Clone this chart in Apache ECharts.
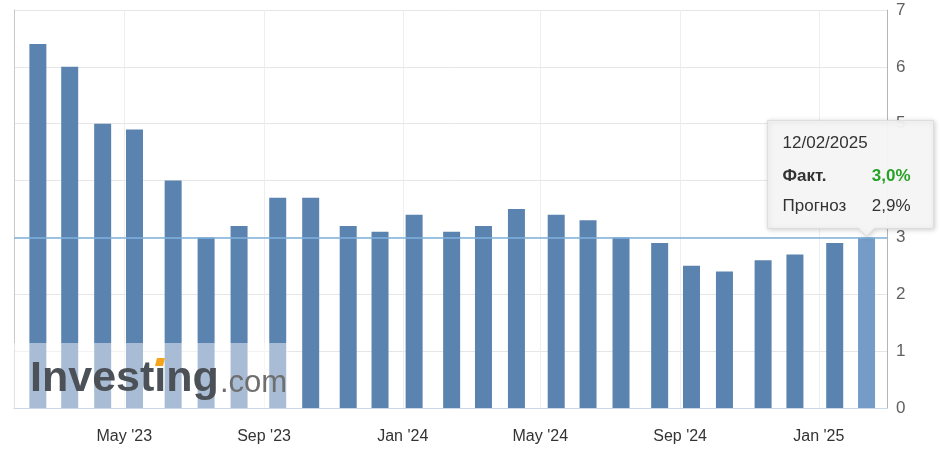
<!DOCTYPE html>
<html>
<head>
<meta charset="utf-8">
<script src="https://cdn.jsdelivr.net/npm/echarts@6/dist/echarts.min.js"></script>
<style>
html,body{margin:0;padding:0;background:#ffffff;}
#chart{width:940px;height:457px;}
</style>
</head>
<body>
<div id="chart"></div>
<script>
// Release dates of the monthly figures
const releaseDates = [
  '2023-02-14','2023-03-14','2023-04-12','2023-05-10','2023-06-13','2023-07-12',
  '2023-08-10','2023-09-13','2023-10-12','2023-11-14','2023-12-12','2024-01-11',
  '2024-02-13','2024-03-12','2024-04-10','2024-05-15','2024-06-12','2024-07-11',
  '2024-08-14','2024-09-11','2024-10-10','2024-11-13','2024-12-11','2025-01-15',
  '2025-02-12'
];
// Actual values, %
const actualValues = [
  6.4, 6.0, 5.0, 4.9, 4.0, 3.0,
  3.2, 3.7, 3.7, 3.2, 3.1, 3.4,
  3.1, 3.2, 3.5, 3.4, 3.3, 3.0,
  2.9, 2.5, 2.4, 2.6, 2.7, 2.9,
  3.0
];
const lastForecast = 2.9;
// X tick label dates
const xTickDates = ['2023-05-01','2023-09-01','2024-01-01','2024-05-01','2024-09-01','2025-01-01'];
const monthNames = ['Jan','Feb','Mar','Apr','May','Jun','Jul','Aug','Sep','Oct','Nov','Dec'];
const xRange = ['2023-01-24','2025-03-02'];
const yTicks = [0, 1, 2, 3, 4, 5, 6, 7];

const FONT = 'Arial, "Liberation Sans", sans-serif';
const ts = d => Date.parse(d);
const lastIdx = actualValues.length - 1;

const barData = releaseDates.map((d, i) => {
  const item = { value: [ts(d), actualValues[i]] };
  if (i === lastIdx) item.itemStyle = { color: '#759cc7' };
  return item;
});

const chart = echarts.init(document.getElementById('chart'), null, { renderer: 'canvas' });

const option = {
  animation: false,
  backgroundColor: '#ffffff',
  grid: { left: 14, right: 53, top: 10, bottom: 49, containLabel: false },
  xAxis: {
    type: 'value',
    min: ts(xRange[0]),
    max: ts(xRange[1]),
    axisLine: { show: true, onZero: false, lineStyle: { color: '#ccd6eb', width: 1 } },
    axisTick: { show: false, customValues: xTickDates.map(ts) },
    axisLabel: {
      customValues: xTickDates.map(ts),
      color: '#333333',
      fontSize: 16,
      fontFamily: FONT,
      margin: 21,
      formatter: v => {
        const dt = new Date(v);
        return monthNames[dt.getUTCMonth()] + " '" + String(dt.getUTCFullYear()).slice(2);
      }
    },
    splitLine: { show: true, lineStyle: { color: '#eeeeee', width: 1 } }
  },
  yAxis: [
    {
      type: 'value',
      position: 'right',
      min: yTicks[0],
      max: yTicks[yTicks.length - 1],
      interval: 1,
      axisLine: { show: true, lineStyle: { color: '#b5b5b5', width: 1 } },
      axisTick: { show: false },
      axisLabel: { color: '#606060', fontSize: 17, fontFamily: FONT, margin: 9, padding: [5, 0, 0, 0] },
      splitLine: { show: true, lineStyle: { color: '#e6e6e6', width: 1 } }
    },
    {
      type: 'value',
      position: 'left',
      min: yTicks[0],
      max: yTicks[yTicks.length - 1],
      interval: 1,
      axisLine: { show: true, lineStyle: { color: '#c8c8c8', width: 1 } },
      axisTick: { show: false },
      axisLabel: { show: false },
      splitLine: { show: false }
    }
  ],
  series: [
    {
      type: 'bar',
      yAxisIndex: 0,
      barWidth: 17,
      itemStyle: { color: '#5b83b0' },
      data: barData,
      markLine: {
        silent: true,
        symbol: ['none', 'none'],
        label: { show: false },
        lineStyle: { color: '#7fb2dc', width: 1.5, type: 'solid' },
        data: [{ yAxis: actualValues[lastIdx] }]
      }
    }
  ]
};

chart.setOption(option);

// Tooltip & watermark decorations
const [px, py] = chart.convertToPixel({ xAxisIndex: 0, yAxisIndex: 0 }, [ts(releaseDates[lastIdx]), actualValues[lastIdx]]);
const [gx0, gy0] = chart.convertToPixel({ xAxisIndex: 0, yAxisIndex: 0 }, [ts(xRange[0]), 0]);

const L = px - 99, R = px + 67, T = py - 117, B = py - 9;
const fmtNum = v => v.toFixed(1).replace('.', ',') + '%';
const rd = releaseDates[lastIdx].split('-');
const dateText = rd[2] + '/' + rd[1] + '/' + rd[0];

chart.setOption({
  graphic: [
    {
      type: 'rect', z: 50, silent: true,
      shape: { x: gx0, y: gy0 - 65, width: 274, height: 65 },
      style: { fill: 'rgba(255,255,255,0.47)' }
    },
    {
      type: 'text', z: 51, silent: true,
      x: gx0 + 16, y: gy0 - 50,
      style: { text: 'Investıng', fill: '#4c5157', font: 'bold 43px ' + FONT, verticalAlign: 'top', align: 'left' }
    },
    {
      type: 'polygon', z: 52, silent: true,
      shape: { points: [[gx0 + 143, gy0 - 50], [gx0 + 151, gy0 - 50], [gx0 + 149, gy0 - 42], [gx0 + 141, gy0 - 42]] },
      style: { fill: '#f4a51c' }
    },
    {
      type: 'text', z: 51, silent: true,
      x: gx0 + 206, y: gy0 - 40,
      style: { text: '.com', fill: '#6f6f6f', font: '31px ' + FONT, verticalAlign: 'top', align: 'left' }
    },
    {
      type: 'polygon', z: 100, silent: true,
      shape: { points: [[L, T], [R, T], [R, B], [px + 8, B], [px, py - 1], [px - 8, B], [L, B]] },
      style: {
        fill: 'rgba(246,246,246,0.96)', stroke: '#dddddd', lineWidth: 1,
        shadowBlur: 5, shadowColor: 'rgba(0,0,0,0.18)', shadowOffsetX: 1, shadowOffsetY: 1
      }
    },
    {
      type: 'text', z: 101, silent: true, x: L + 15, y: T + 23,
      style: { text: dateText, fill: '#333333', font: '17px ' + FONT, align: 'left', verticalAlign: 'middle' }
    },
    {
      type: 'text', z: 101, silent: true, x: L + 15, y: T + 56,
      style: { text: 'Факт.', fill: '#333333', font: 'bold 17px ' + FONT, align: 'left', verticalAlign: 'middle' }
    },
    {
      type: 'text', z: 101, silent: true, x: R - 23, y: T + 56,
      style: { text: fmtNum(actualValues[lastIdx]), fill: '#27a227', font: 'bold 17px ' + FONT, align: 'right', verticalAlign: 'middle' }
    },
    {
      type: 'text', z: 101, silent: true, x: L + 15, y: T + 86,
      style: { text: 'Прогноз', fill: '#333333', font: '17px ' + FONT, align: 'left', verticalAlign: 'middle' }
    },
    {
      type: 'text', z: 101, silent: true, x: R - 23, y: T + 86,
      style: { text: fmtNum(lastForecast), fill: '#333333', font: '17px ' + FONT, align: 'right', verticalAlign: 'middle' }
    }
  ]
});
</script>
</body>
</html>
